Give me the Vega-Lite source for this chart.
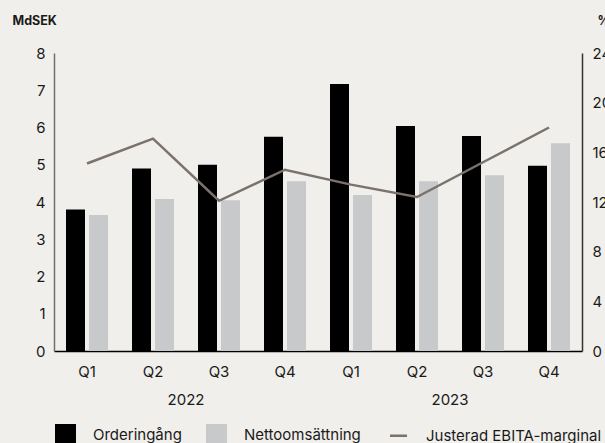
{
  "$schema": "https://vega.github.io/schema/vega-lite/v6.json",
  "width": 528,
  "height": 298,
  "autosize": {"type": "none"},
  "padding": {"left": 54, "top": 53, "right": 23, "bottom": 92},
  "background": "#f0efeb",
  "config": {
    "view": {"stroke": null},
    "font": "Inter",
    "axis": {"grid": false, "ticks": false, "labelFontSize": 15, "labelColor": "#1a1a1a", "labelFont": "Inter"}
  },
  "layer": [
    {
      "data": {"values": [
        {"period": "Q1 2022", "serie": "Orderingång", "value": 3.8},
        {"period": "Q1 2022", "serie": "Nettoomsättning", "value": 3.65},
        {"period": "Q2 2022", "serie": "Orderingång", "value": 4.9},
        {"period": "Q2 2022", "serie": "Nettoomsättning", "value": 4.08},
        {"period": "Q3 2022", "serie": "Orderingång", "value": 5.0},
        {"period": "Q3 2022", "serie": "Nettoomsättning", "value": 4.05},
        {"period": "Q4 2022", "serie": "Orderingång", "value": 5.75},
        {"period": "Q4 2022", "serie": "Nettoomsättning", "value": 4.56},
        {"period": "Q1 2023", "serie": "Orderingång", "value": 7.17},
        {"period": "Q1 2023", "serie": "Nettoomsättning", "value": 4.19},
        {"period": "Q2 2023", "serie": "Orderingång", "value": 6.04},
        {"period": "Q2 2023", "serie": "Nettoomsättning", "value": 4.56},
        {"period": "Q3 2023", "serie": "Orderingång", "value": 5.77},
        {"period": "Q3 2023", "serie": "Nettoomsättning", "value": 4.72},
        {"period": "Q4 2023", "serie": "Orderingång", "value": 4.97},
        {"period": "Q4 2023", "serie": "Nettoomsättning", "value": 5.58}
      ]},
      "mark": {"type": "bar"},
      "encoding": {
        "x": {
          "field": "period", "type": "nominal", "sort": null,
          "scale": {"paddingInner": 0, "paddingOuter": 0},
          "axis": {"labelExpr": "split(datum.value, ' ')[0]", "labelAngle": 0, "labelPadding": 13, "title": null, "domainColor": "#000000", "domainWidth": 1.5, "labelBaseline": "top"}
        },
        "xOffset": {
          "field": "serie", "type": "nominal", "sort": ["Orderingång", "Nettoomsättning"],
          "scale": {"paddingInner": 0.174, "paddingOuter": 0.522}
        },
        "y": {
          "field": "value", "type": "quantitative",
          "scale": {"domain": [0, 8]},
          "axis": {"values": [0, 1, 2, 3, 4, 5, 6, 7, 8], "title": "MdSEK", "titleAngle": 0, "titleX": -42, "titleY": -32.5, "titleAlign": "left", "titleBaseline": "middle", "titleFontSize": 12.5, "titleFontWeight": "bold", "titleColor": "#1a1a1a", "labelPadding": 9, "domainColor": "#707070", "domainWidth": 1.5}
        },
        "color": {
          "field": "serie", "type": "nominal",
          "scale": {"domain": ["Orderingång", "Nettoomsättning", "Justerad EBITA-marginal"], "range": ["#000000", "#c8c9cb", "#7b726d"]},
          "legend": {
            "orient": "none", "legendX": 4, "legendY": 374, "direction": "horizontal", "title": null,
            "padding": 0, "symbolSize": 441, "symbolType": "square", "labelFontSize": 15, "labelColor": "#1a1a1a",
            "labelOffset": 20, "columnPadding": 24, "labelFont": "Inter", "labelLimit": 0,
            "encode": {
              "symbols": {
                "update": {
                  "shape": {"signal": "datum.value == 'Justerad EBITA-marginal' ? 'stroke' : 'square'"},
                  "fill": {"signal": "datum.value == 'Justerad EBITA-marginal' ? 'transparent' : scale('color', datum.value)"},
                  "stroke": {"signal": "datum.value == 'Justerad EBITA-marginal' ? '#7b726d' : 'transparent'"},
                  "strokeWidth": {"signal": "datum.value == 'Justerad EBITA-marginal' ? 2.5 : 0"},
                  "size": {"signal": "datum.value == 'Justerad EBITA-marginal' ? 289 : 441"},
                  "opacity": {"value": 1}
                }
              }
            }
          }
        }
      }
    },
    {
      "data": {"values": [
        {"period": "Q1 2022", "serie": "Justerad EBITA-marginal", "marginal": 15.1},
        {"period": "Q2 2022", "serie": "Justerad EBITA-marginal", "marginal": 17.1},
        {"period": "Q3 2022", "serie": "Justerad EBITA-marginal", "marginal": 12.1},
        {"period": "Q4 2022", "serie": "Justerad EBITA-marginal", "marginal": 14.6},
        {"period": "Q1 2023", "serie": "Justerad EBITA-marginal", "marginal": 13.4},
        {"period": "Q2 2023", "serie": "Justerad EBITA-marginal", "marginal": 12.4},
        {"period": "Q3 2023", "serie": "Justerad EBITA-marginal", "marginal": 15.2},
        {"period": "Q4 2023", "serie": "Justerad EBITA-marginal", "marginal": 18.0}
      ]},
      "mark": {"type": "line", "strokeWidth": 2.5},
      "encoding": {
        "x": {"field": "period", "type": "nominal", "sort": null, "scale": {"paddingInner": 0, "paddingOuter": 0}, "axis": null},
        "y": {
          "field": "marginal", "type": "quantitative",
          "scale": {"domain": [0, 24]},
          "axis": {"orient": "right", "values": [0, 4, 8, 12, 16, 20, 24], "title": "%", "titleAngle": 0, "titleX": 15, "titleY": -32.5, "titleAlign": "left", "titleBaseline": "middle", "titleFontSize": 12.5, "titleFontWeight": "bold", "titleColor": "#1a1a1a", "labelPadding": 10, "domainColor": "#333333", "domainWidth": 1.5}
        },
        "color": {"field": "serie", "type": "nominal"}
      }
    },
    {
      "data": {"values": [{"year": "2022"}, {"year": "2023"}]},
      "mark": {"type": "rule", "strokeOpacity": 0},
      "encoding": {
        "x": {
          "field": "year", "type": "nominal",
          "scale": {"paddingInner": 0, "paddingOuter": 0},
          "axis": {"orient": "bottom", "domain": false, "ticks": false, "labelAngle": 0, "labelPadding": 41, "labelBaseline": "top", "title": null}
        }
      }
    }
  ],
  "resolve": {"scale": {"x": "independent", "y": "independent"}}
}
